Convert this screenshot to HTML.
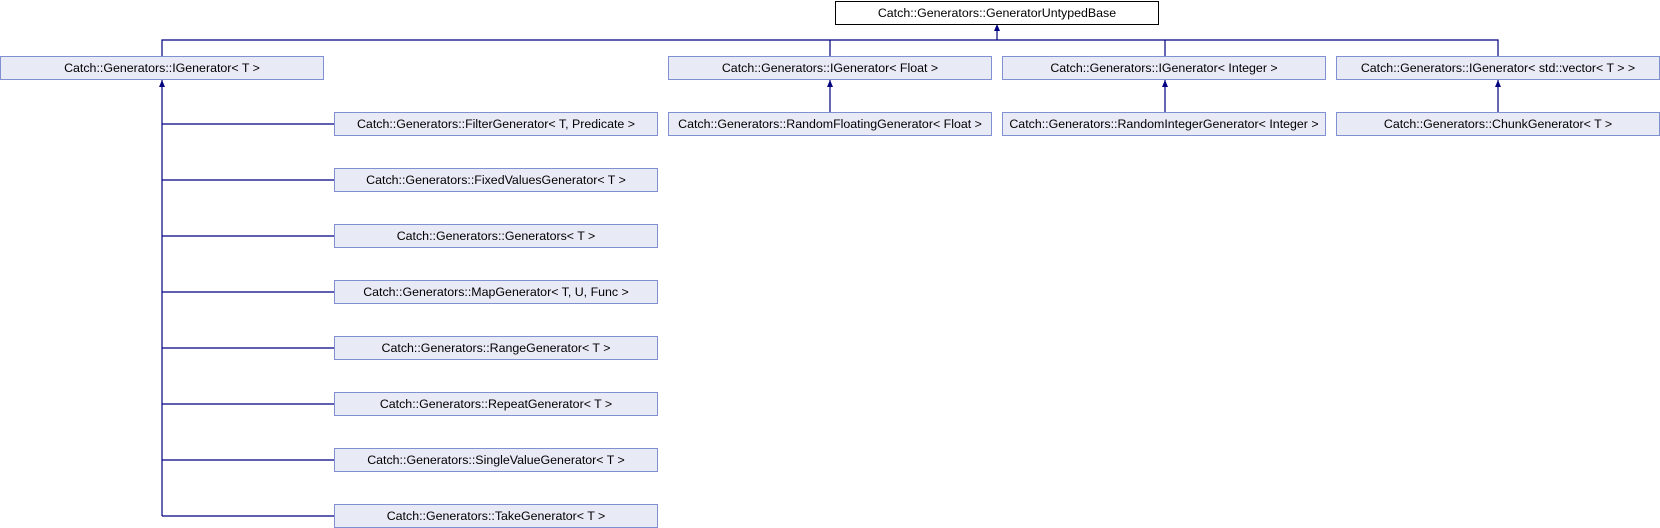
<!DOCTYPE html>
<html><head><style>
body{margin:0;width:1660px;height:528px;background:#fff;overflow:hidden}
.b{position:absolute;height:22px;border:1px solid #8090d0;background:#e8eaf6;font:12.4px "Liberation Sans",sans-serif;line-height:22px;text-align:center;color:#000;box-sizing:content-box;white-space:nowrap}
svg{position:absolute;left:0;top:0}
</style></head><body>
<svg width="1660" height="528">
<g stroke="#000080" stroke-width="1.2" fill="none">
<path d="M997 26V40M162 56V40H1498V56M830 40V56M1165 40V56"/>
<path d="M830 80V112M1165 80V112M1498 80V112"/>
<path d="M162 80V516"/>
<path d="M162 124H334M162 180H334M162 236H334M162 292H334M162 348H334M162 404H334M162 460H334M162 516H334"/>
</g>
<g fill="#000080">
<path d="M997 24l-3 7h6z"/><path d="M830 80l-3 7h6z"/><path d="M1165 80l-3 7h6z"/><path d="M1498 80l-3 7h6z"/><path d="M162 80l-3 7h6z"/>
</g>
</svg>
<div class="b" style="left:835px;top:1px;width:322px;background:#fff;border-color:#000">Catch::Generators::GeneratorUntypedBase</div>
<div class="b" style="left:0;top:56px;width:322px">Catch::Generators::IGenerator&lt; T &gt;</div>
<div class="b" style="left:668px;top:56px;width:322px">Catch::Generators::IGenerator&lt; Float &gt;</div>
<div class="b" style="left:1002px;top:56px;width:322px">Catch::Generators::IGenerator&lt; Integer &gt;</div>
<div class="b" style="left:1336px;top:56px;width:322px">Catch::Generators::IGenerator&lt; std::vector&lt; T &gt; &gt;</div>
<div class="b" style="left:668px;top:112px;width:322px">Catch::Generators::RandomFloatingGenerator&lt; Float &gt;</div>
<div class="b" style="left:1002px;top:112px;width:322px">Catch::Generators::RandomIntegerGenerator&lt; Integer &gt;</div>
<div class="b" style="left:1336px;top:112px;width:322px">Catch::Generators::ChunkGenerator&lt; T &gt;</div>
<div class="b" style="left:334px;top:112px;width:322px">Catch::Generators::FilterGenerator&lt; T, Predicate &gt;</div>
<div class="b" style="left:334px;top:168px;width:322px">Catch::Generators::FixedValuesGenerator&lt; T &gt;</div>
<div class="b" style="left:334px;top:224px;width:322px">Catch::Generators::Generators&lt; T &gt;</div>
<div class="b" style="left:334px;top:280px;width:322px">Catch::Generators::MapGenerator&lt; T, U, Func &gt;</div>
<div class="b" style="left:334px;top:336px;width:322px">Catch::Generators::RangeGenerator&lt; T &gt;</div>
<div class="b" style="left:334px;top:392px;width:322px">Catch::Generators::RepeatGenerator&lt; T &gt;</div>
<div class="b" style="left:334px;top:448px;width:322px">Catch::Generators::SingleValueGenerator&lt; T &gt;</div>
<div class="b" style="left:334px;top:504px;width:322px">Catch::Generators::TakeGenerator&lt; T &gt;</div>
</body></html>
